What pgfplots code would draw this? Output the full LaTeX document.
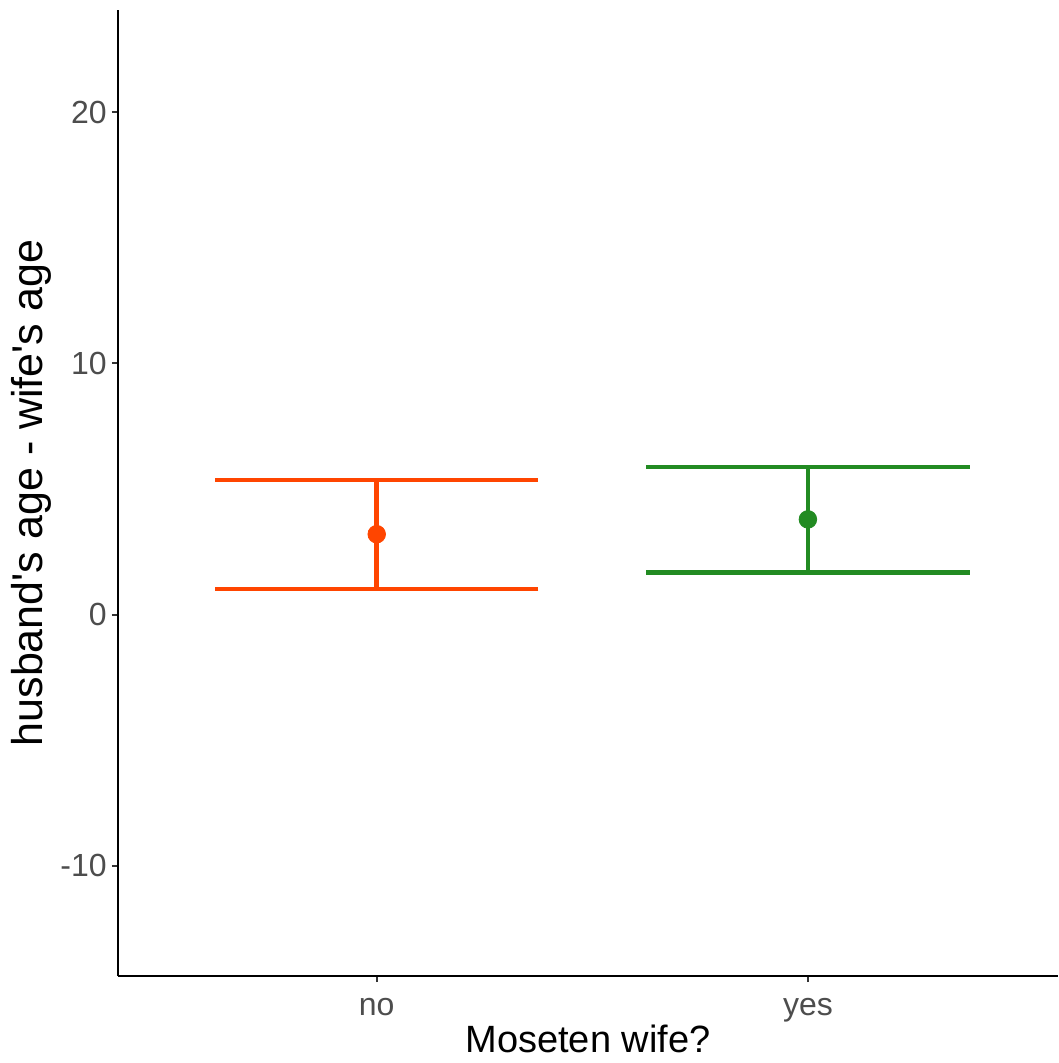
\documentclass[border=0pt]{standalone}
\usepackage{pgfplots}
\pgfplotsset{compat=1.18}
\usepackage{fontspec}
\setmainfont{Liberation Sans}
\definecolor{cno}{HTML}{FF4500}
\definecolor{cyes}{HTML}{228B22}
\definecolor{ticklab}{HTML}{4D4D4D}
\definecolor{tickc}{HTML}{333333}
\begin{document}
\begin{tikzpicture}
\begin{axis}[
 scale only axis, width=470pt, height=483pt,
 xmin=0.4, xmax=2.58, ymin=-14.38, ymax=24.06,
 axis lines*=left, axis line style={-, line width=1pt, black},
 xtick={1,2}, xticklabels={no,yes},
 ytick={-10,0,10,20}, yticklabels={-10,0,10,20},
 tick align=outside, major tick length=3pt,
 tick style={line width=1pt, color=tickc},
 xticklabel style={font=\fontsize{16}{19}\selectfont, text=ticklab, anchor=base, inner sep=0pt, yshift=-16.5pt},
 yticklabel style={font=\fontsize{16}{19}\selectfont, text=ticklab, anchor=east, inner sep=0pt, xshift=-2.5pt},
 xlabel={Moseten wife?}, ylabel={husband\textquotesingle s age - wife\textquotesingle s age},
 xlabel style={font=\fontsize{19}{23}\selectfont, at={(axis description cs:0.5,-0.0797)}, anchor=base},
 ylabel style={font=\fontsize{21.5}{25}\selectfont, at={(axis description cs:-0.0798,0.5)}, anchor=base},
 clip=false,
]
\addplot[only marks, mark=*, mark size=4.4pt, color=cno,
  error bars/.cd, y dir=both, y explicit,
  error bar style={line width=2.35pt, color=cno},
  error mark options={rotate=90, mark size=80.8pt, line width=2.35pt, color=cno}]
  coordinates {(1,3.20) += (0,2.16) -= (0,2.18)};
\addplot[only marks, mark=*, mark size=4.4pt, color=cyes,
  error bars/.cd, y dir=both, y explicit,
  error bar style={line width=2.35pt, color=cyes},
  error mark options={rotate=90, mark size=80.8pt, line width=2.35pt, color=cyes}]
  coordinates {(2,3.79) += (0,2.09) -= (0,2.11)};
\coordinate (bl) at (rel axis cs:0,0);
\coordinate (tr) at (rel axis cs:1,1);
\end{axis}
\pgfresetboundingbox
\useasboundingbox ([xshift=-59pt,yshift=-43.5pt]bl) rectangle ([yshift=5pt]tr);
\end{tikzpicture}
\end{document}
